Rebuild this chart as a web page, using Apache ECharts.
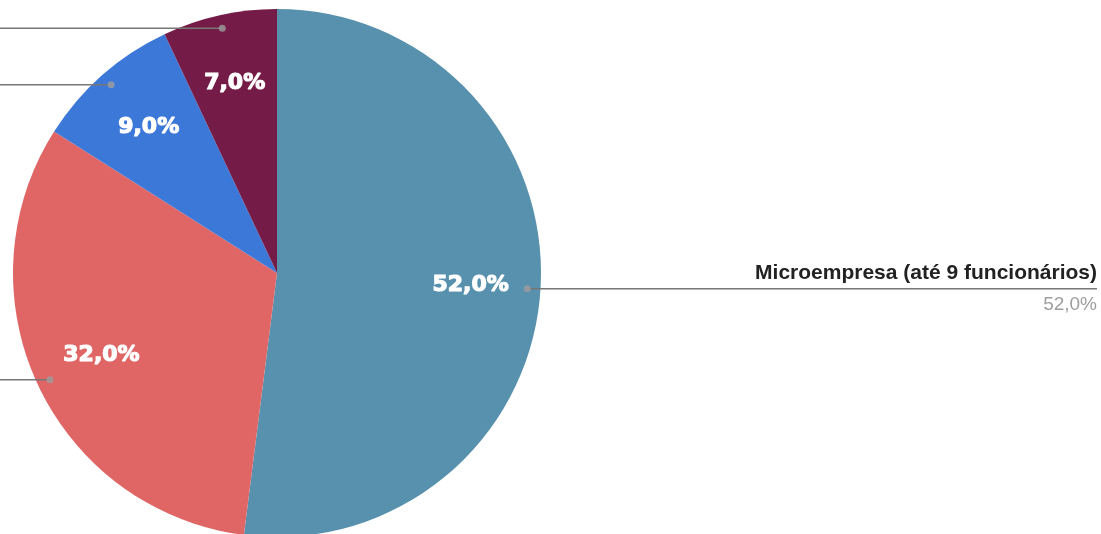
<!DOCTYPE html>
<html>
<head>
<meta charset="utf-8">
<script src="https://cdn.jsdelivr.net/npm/echarts@6/dist/echarts.min.js"></script>
<style>
  html, body { margin: 0; padding: 0; background: #fff; }
  #chart { width: 1101px; height: 534px; }
</style>
</head>
<body>
<div id="chart"></div>
<script>
// data (slices clockwise from 12 o'clock)
var categories = [
  'Microempresa (até 9 funcionários)',
  'Pequena empresa (10 a 49 funcionários)',
  'Média empresa (50 a 99 funcionários)',
  'Grande empresa (mais de 100 funcionários)'
];
var shares = [52.0, 32.0, 9.0, 7.0];
var colors = ['#5791ad', '#e06666', '#3c78d8', '#741b47'];

var CX = 277, CY = 273, R = 264;

function pct(v) {
  return v.toFixed(1).replace('.', ',') + '%';
}

// mid angle of each slice, in percent of the circle (for the leader dots)
var mids = [];
var acc = 0;
shares.forEach(function (v) {
  mids.push([0.95, acc + v / 2]);
  acc += v;
});

var chart = echarts.init(document.getElementById('chart'));

var pieData = categories.map(function (c, i) {
  return { name: c, value: shares[i], itemStyle: { color: colors[i] } };
});

var option = {
  animation: false,
  backgroundColor: '#fff',
  polar: { center: [CX, CY], radius: R },
  angleAxis: { type: 'value', min: 0, max: 100, startAngle: 90, clockwise: true, show: false },
  radiusAxis: { type: 'value', min: 0, max: 1, show: false },
  series: [
    {
      // the coloured pie
      type: 'pie',
      center: [CX, CY],
      radius: [0, R],
      startAngle: 90,
      silent: true,
      label: { show: false },
      labelLine: { show: false },
      data: pieData,
      z: 1
    },
    {
      // percent labels inside the slices
      type: 'pie',
      center: [CX, CY],
      radius: [118, R],
      startAngle: 90,
      silent: true,
      avoidLabelOverlap: false,
      itemStyle: { color: 'rgba(0,0,0,0)' },
      label: {
        show: true,
        position: 'inside',
        formatter: function (p) { return pct(p.value); },
        color: '#fff',
        fontFamily: 'DejaVu Sans',
        fontWeight: 'bold',
        fontSize: 22,
        textBorderColor: '#fff',
        textBorderWidth: 1.2
      },
      labelLine: { show: false },
      data: categories.map(function (c, i) { return { name: c, value: shares[i] }; }),
      z: 2
    },
    {
      // outside labels with leader lines
      type: 'pie',
      center: [CX, CY],
      radius: [0, R * 0.95],
      startAngle: 90,
      silent: true,
      itemStyle: { color: 'rgba(0,0,0,0)' },
      label: {
        show: true,
        position: 'outside',
        alignTo: 'edge',
        edgeDistance: 4,
        fontFamily: 'Liberation Sans, Arial, sans-serif',
        formatter: function (p) {
          return '{n|' + p.name + '}\n{v|' + pct(p.value) + '}';
        },
        rich: {
          n: { fontSize: 21, fontWeight: 'bold', color: '#222', lineHeight: 32,
               fontFamily: 'Liberation Sans, Arial, sans-serif' },
          v: { fontSize: 19, color: '#9e9e9e', lineHeight: 32,
               fontFamily: 'Liberation Sans, Arial, sans-serif' }
        }
      },
      labelLine: {
        show: true,
        length: 0,
        length2: 20,
        lineStyle: { color: '#777', width: 1.5 }
      },
      labelLayout: function (p) {
        var pts = p.labelLinePoints;
        if (!pts) return {};
        var onRight = p.labelRect.x > CX;
        var endX = onRight ? p.labelRect.x + p.labelRect.width : p.labelRect.x;
        return { labelLinePoints: [pts[0], [endX, pts[pts.length - 1][1]]] };
      },
      data: categories.map(function (c, i) {
        return {
          name: c,
          value: shares[i],
          label: { edgeDistance: i === 0 ? 4 : -700 }
        };
      }),
      z: 3
    },
    {
      // dots where the leader lines start
      type: 'scatter',
      coordinateSystem: 'polar',
      symbol: 'circle',
      symbolSize: 7,
      silent: true,
      itemStyle: { color: '#9e9e9e' },
      data: mids,
      z: 4
    }
  ]
};

chart.setOption(option);
</script>
</body>
</html>
